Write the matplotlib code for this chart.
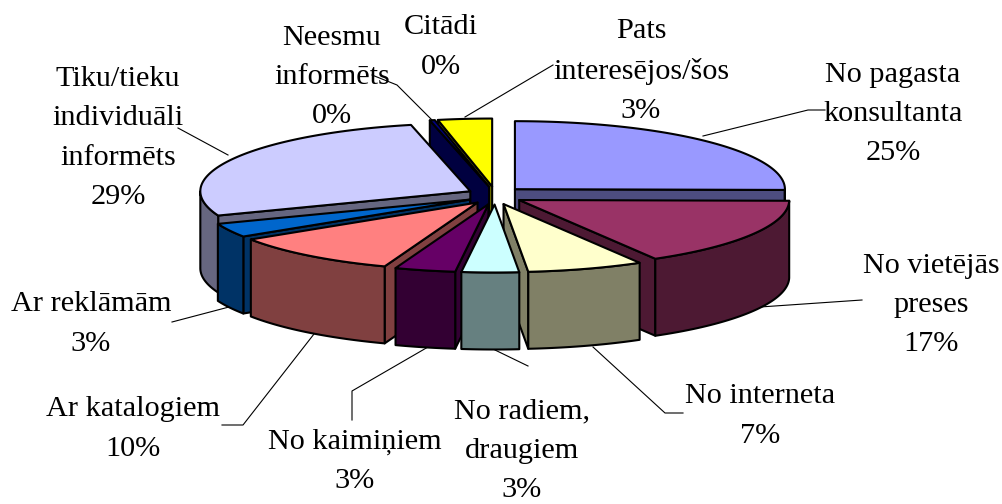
import numpy as np
import matplotlib
matplotlib.use("Agg")
import matplotlib.pyplot as plt
from matplotlib.patches import Polygon

# Slice shares as they appear in the drawing, clockwise from 12 o'clock
categories = ["No pagasta konsultanta", "No vietējās preses", "No interneta",
              "No radiem, draugiem", "No kaimiņiem", "Ar katalogiem", "Ar reklāmām",
              "Tiku/tieku individuāli informēts", "Neesmu informēts", "Citādi",
              "Pats interesējos/šos"]
shares = [25.0, 16.3, 6.9, 3.4, 3.6, 10.2, 3.3, 27.1, 0.3, 0.0, 3.2]
top_colors = ["#9999FF", "#993366", "#FFFFCC", "#CCFFFF", "#660066", "#FF8080",
              "#0066CC", "#CCCCFF", "#000080", "#FF00FF", "#FFFF00"]
side_colors = ["#4D4D80", "#4D1933", "#808066", "#668080", "#330033", "#804040",
               "#003366", "#666680", "#000040", "#800080", "#808000"]
label_texts = ["No pagasta\nkonsultanta\n25%", "No vietējās\npreses\n17%", "No interneta\n7%",
               "No radiem,\ndraugiem\n3%", "No kaimiņiem\n3%", "Ar katalogiem\n10%",
               "Ar reklāmām\n3%", "Tiku/tieku\nindividuāli\ninformēts\n29%",
               "Neesmu\ninformēts\n0%", "Citādi\n0%", "Pats\ninteresējos/šos\n3%"]
label_pos = [(893, 114), (931, 305), (760, 416), (522, 451), (355, 461), (133, 429),
             (91, 324), (118, 138), (332, 77), (441, 47), (641, 71)]
leaders = [[(703, 136), (808, 110), (825, 110)],
           [(760, 307), (862, 300)],
           [(593, 347), (665, 413), (683, 413)],
           [(495, 350), (528, 366)],
           [(428, 347), (352, 391), (352, 420)],
           [(314, 334), (243, 425), (222, 425)],
           [(229, 307), (172, 322)],
           [(228, 155), (178, 128)],
           [(432, 120), (397, 85), (372, 75)],
           [(465, 117), (553, 65)]]

CX, CY = 495, 195.5   # pie centre in the canvas
RX, RY = 270, 68      # top ellipse
EX, EY = 28, 9        # explosion
DEPTH = 77
OUT = "black"
LW = 1.5

fig = plt.figure(figsize=(10.03, 5.04), dpi=100)
ax = fig.add_axes([0, 0, 1, 1])
ax.set_xlim(0, 1003)
ax.set_ylim(504, 0)
ax.axis("off")

for pts in leaders:
    xs, ys = zip(*pts)
    ax.plot(xs, ys, color="black", lw=0.8, zorder=1)

def rim(ox, oy, a0, a1):
    t = np.radians(np.linspace(a0, a1, max(int(abs(a1 - a0)) * 2, 2)))
    return np.column_stack([ox + RX * np.sin(t), oy - RY * np.cos(t)])

edges = np.concatenate([[0], np.cumsum(shares)]) / np.sum(shares) * 360
slices = []
for i, s in enumerate(shares):
    if s > 0:
        a0, a1 = edges[i], edges[i + 1]
        mid = (a0 + a1) / 2
        dist = abs((mid - 355 + 180) % 360 - 180)
        slices.append((dist, i, a0, a1, mid))
slices.sort()

z = 2
def poly(points, color):
    global z
    ax.add_patch(Polygon(points, closed=True, facecolor=color, edgecolor=OUT,
                         lw=LW, joinstyle="round", zorder=z))
    z += 1

down = np.array([0, DEPTH])
for _, i, a0, a1, mid in slices:
    ox = CX + EX * np.sin(np.radians(mid))
    oy = CY - EY * np.cos(np.radians(mid))
    apex = np.array([ox, oy])
    side = side_colors[i]
    # cut faces that look toward the viewer
    if np.sin(np.radians(a0)) < 0:
        e = rim(ox, oy, a0, a0)[0]
        poly([apex, e, e + down, apex + down], side)
    if np.sin(np.radians(a1)) > 0:
        e = rim(ox, oy, a1, a1)[0]
        poly([apex, e, e + down, apex + down], side)
    # outer wall: only the front half of the rim shows
    lo, hi = max(a0, 90), min(a1, 270)
    if hi > lo:
        arc = rim(ox, oy, lo, hi)
        poly(np.vstack([arc, arc[::-1] + down]), side)
    # top face
    poly(np.vstack([apex, rim(ox, oy, a0, a1)]), top_colors[i])

for txt, (x, y) in zip(label_texts, label_pos):
    ax.text(x, y, txt, ha="center", va="center", family="Liberation Serif",
            fontsize=21.8, linespacing=1.66, color="black", zorder=100)

fig.savefig("out.png", dpi=100)
